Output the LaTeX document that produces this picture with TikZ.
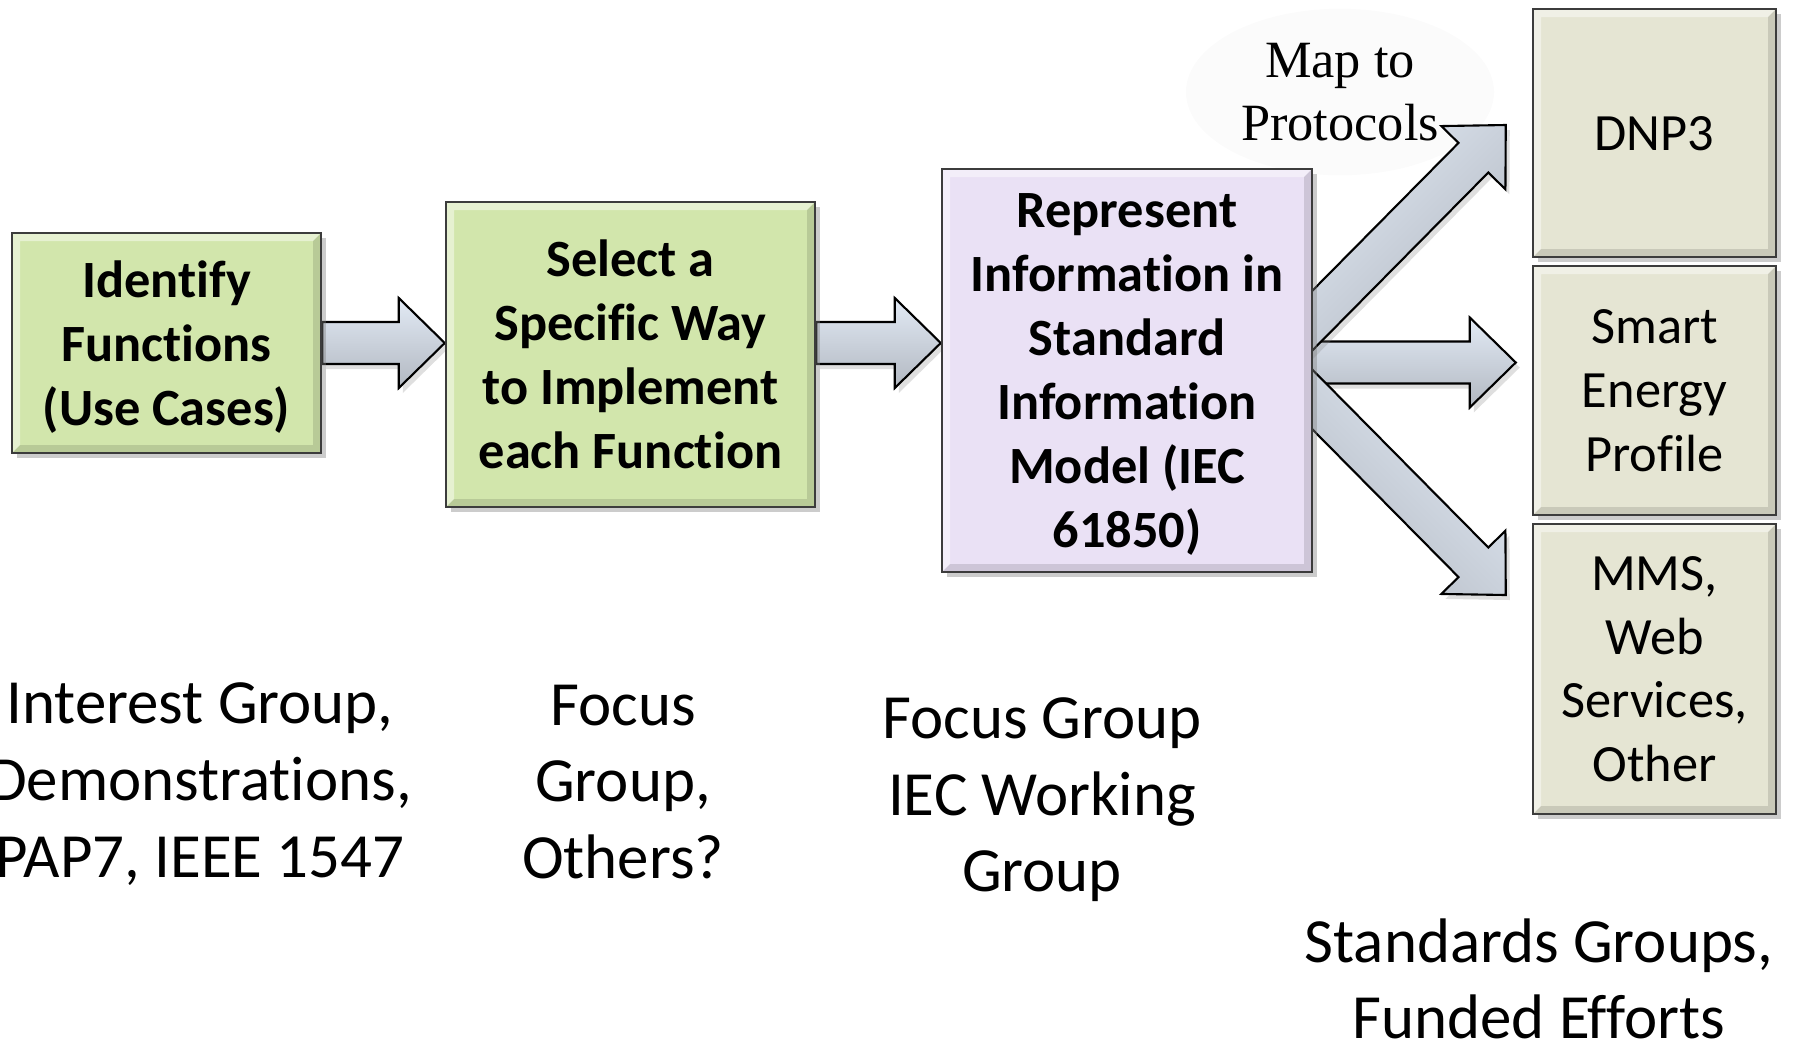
\documentclass[tikz,border=0pt]{standalone}
\usepackage{fontspec}
\setmainfont{Carlito}[Ligatures=CommonOff]
\newfontfamily\mapfont{Liberation Serif}
\usetikzlibrary{calc,shadows,shapes.geometric}
\definecolor{boxgreen}{RGB}{210,230,172}
\definecolor{boxpurple}{RGB}{234,225,245}
\definecolor{boxtan}{RGB}{229,229,211}
\definecolor{boxline}{RGB}{60,60,60}
\definecolor{arrowlight}{RGB}{246,249,253}
\definecolor{arrowblue}{RGB}{226,234,245}
\definecolor{arrowdark}{RGB}{178,184,193}
\pgfdeclarelayer{background}
\pgfsetlayers{background,main}

% block arrow: #2 = tail, #3 = tip, #1 = shading angle
\newcommand{\shaftw}{2.1mm}
\newcommand{\headw}{4.5mm}
\newcommand{\headl}{4.6mm}
\newcommand{\blockarrow}[3][0]{%
  \coordinate (ba-c) at ($(#3)!\headl!(#2)$);
  \path[arrowbody, shading angle=#1]
    ($(#2)!\shaftw!90:(#3)$) -- ($(ba-c)!\shaftw!90:(#3)$) -- ($(ba-c)!\headw!90:(#3)$)
    -- (#3) -- ($(ba-c)!\headw!-90:(#3)$) -- ($(ba-c)!\shaftw!-90:(#3)$)
    -- ($(#2)!\shaftw!-90:(#3)$) -- cycle;
}

\begin{document}
\begin{tikzpicture}[x=0.1mm, y=-0.1mm]
    % Define styles
    \tikzset{
        bevel/.style={path picture={
            \path (path picture bounding box.south west) coordinate (bsw)
                  (path picture bounding box.north east) coordinate (bne);
            \fill[white, opacity=.45] (bsw) |- (bne) -- ([shift={(-.8mm,-.8mm)}]bne) -| ([shift={(.8mm,.8mm)}]bsw) -- cycle;
            \fill[black, opacity=.12] (bsw) -| (bne) -- ([shift={(-.8mm,-.8mm)}]bne) |- ([shift={(.8mm,.8mm)}]bsw) -- cycle;
        }},
        box/.style={rectangle, draw=boxline, line width=0.7pt, align=center, inner sep=0pt, bevel,
            drop shadow={shadow xshift=.5mm, shadow yshift=-.5mm, opacity=.4}},
        task/.style={box, fill=boxgreen, font=\bfseries\fontsize{14.9}{18.2}\selectfont, text depth=0pt},
        model/.style={task, fill=boxpurple},
        proto/.style={box, fill=boxtan, minimum width=24.3mm, font=\fontsize{14.9}{18.2}\selectfont,
            text depth=0pt},
        note/.style={align=center, font=\fontsize{17.9}{21.8}\selectfont},
        arrowbody/.style={draw=black, line width=0.6pt, top color=arrowblue, middle color=arrowlight,
            bottom color=arrowdark,
            drop shadow={shadow xshift=.4mm, shadow yshift=-.5mm, opacity=.25}}
    }
    \useasboundingbox (0,0) rectangle (1793,1046);

    % Process boxes
    \node[task, minimum width=30.9mm, minimum height=22mm] (ident) at (166.5,343) {Identify\\Functions\\(Use Cases)};
    \node[task, minimum width=36.9mm, minimum height=30.5mm] (select) at (630.5,354.5) {Select a\\Specific Way\\to Implement\\each Function};
    \node[model, minimum width=37mm, minimum height=40.3mm] (repr) at (1127,370.5) {Represent\\Information in\\Standard\\Information\\Model (IEC\\61850)};

    % Protocol boxes
    \node[proto, minimum height=24.8mm] (dnp) at (1654.5,133) {DNP3};
    \node[proto, minimum height=24.9mm] (sep) at (1654.5,390.5) {Smart\\Energy\\Profile};
    \node[proto, minimum height=29mm] (mms) at (1654.5,669) {MMS,\\Web\\Services,\\Other};

    % Arrows (behind the boxes)
    \begin{pgfonlayer}{background}
        \node[ellipse, fill=black!1.5, inner sep=1mm, font=\mapfont\fontsize{14.9}{17.9}\selectfont, align=center] (map) at (1340,92) {Map to\\Protocols};
        \blockarrow{ident.east}{ident.east -| select.west}
        \coordinate (a2s) at (select.east |- ident.east);
        \coordinate (a2e) at (repr.west |- ident.east);
        \blockarrow{a2s}{a2e}
        \coordinate (hub) at ($(repr.east)+(-30,-8)$);
        \coordinate (tipmid) at ($(sep.west |- hub)+(-16,0)$);
        \blockarrow{hub}{tipmid}
        \coordinate (hubup) at ($(repr.east)+(-30,-20.5)$);
        \coordinate (tipup) at ($(dnp.west)+(-26,-8)$);
        \blockarrow[45]{hubup}{tipup}
        \coordinate (hubdown) at ($(repr.east)+(-30,-0.5)$);
        \coordinate (tipdown) at ($(mms.west)+(-26,-74)$);
        \blockarrow[-45]{hubdown}{tipdown}
    \end{pgfonlayer}

    % Who does each step
    \node[note] (interest) at (200,784) {Interest Group,\\Demonstrations,\\PAP7, IEEE 1547};
    \node[note] (focus) at (623,782) {Focus\\Group,\\Others?};
    \node[note] (iec) at (1042,800) {Focus Group\\IEC Working\\Group};
    \node[note] (stds) at (1539,979) {Standards Groups,\\Funded Efforts};
\end{tikzpicture}
\end{document}
